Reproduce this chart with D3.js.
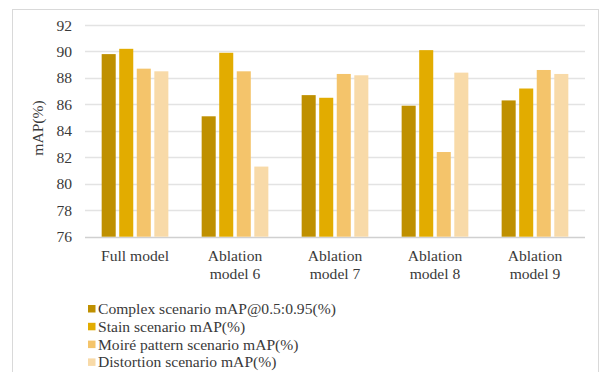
<!DOCTYPE html>
<html><head><meta charset="utf-8">
<script src="https://cdn.jsdelivr.net/npm/d3@7"></script>
<style>body{margin:0;background:#fff;} svg{display:block;}</style>
</head><body><svg id="c" width="602" height="372"></svg>
<script>
const categories = [["Full model"], ["Ablation", "model 6"], ["Ablation", "model 7"], ["Ablation", "model 8"], ["Ablation", "model 9"]];
const seriesNames = ["Complex scenario mAP@0.5:0.95(%)", "Stain scenario mAP(%)", "Moiré pattern scenario mAP(%)", "Distortion scenario mAP(%)"];
const complexVals = [89.8, 85.1, 86.7, 85.9, 86.3];
const stainVals = [90.2, 89.9, 86.5, 90.1, 87.2];
const moireVals = [88.7, 88.5, 88.3, 82.4, 88.6];
const distortionVals = [88.5, 81.3, 88.2, 88.4, 88.3];
const yTicks = [76, 78, 80, 82, 84, 86, 88, 90, 92];
const colors = ["#BF9000", "#E2AC00", "#F4C46B", "#F8DAA8"];

(function() {
const series = [complexVals, stainVals, moireVals, distortionVals];
const svg = d3.select("#c");
const font = "'Liberation Serif', 'Times New Roman', serif";
const fs = 15.6;

// outer border
svg.append("rect").attr("x", 12.5).attr("y", 9.5).attr("width", 586).attr("height", 380)
  .attr("fill", "none").attr("stroke", "#d9d9d9").attr("stroke-width", 1);

const pLeft = 85, pRight = 585, pTop = 25, pBottom = 236.7;
const keys = categories.map((c, i) => i);
const x0 = d3.scaleBand().domain(keys).range([pLeft, pRight]).paddingInner(0.333).paddingOuter(0.1667);
const x1 = d3.scaleBand().domain(d3.range(4)).range([0, x0.bandwidth()]).paddingInner(0.2).paddingOuter(0);
const y = d3.scaleLinear().domain([76, 92]).range([pBottom, pTop]);

// gridlines
svg.append("g").selectAll("line").data(yTicks).join("line")
  .attr("x1", pLeft).attr("x2", pRight)
  .attr("y1", d => Math.round(y(d)) + 0.5).attr("y2", d => Math.round(y(d)) + 0.5)
  .attr("stroke", d => d === 76 ? "#d0d0d0" : "#e3e3e3").attr("stroke-width", d => d === 76 ? 1.5 : 1.3);

// y axis labels
const yAxis = d3.axisLeft(y).tickValues(yTicks).tickSize(0).tickPadding(0);
const ga = svg.append("g").attr("transform", `translate(72,0)`).call(yAxis);
ga.select(".domain").remove();
ga.selectAll("text").attr("font-family", font).attr("font-size", fs).attr("fill", "#3a3a3a");

// bars
svg.append("g").selectAll("g").data(keys).join("g")
  .attr("transform", d => `translate(${x0(d)},0)`)
  .selectAll("rect").data(ci => series.map((s, si) => ({si, v: s[ci]}))).join("rect")
  .attr("x", d => x1(d.si)).attr("width", x1.bandwidth())
  .attr("y", d => y(d.v)).attr("height", d => y(76) - y(d.v))
  .attr("fill", d => colors[d.si]);

// category labels
const cl = svg.append("g").selectAll("text").data(keys).join("text")
  .attr("x", d => x0(d) + x0.bandwidth() / 2).attr("y", 260.5)
  .attr("text-anchor", "middle").attr("font-family", font).attr("font-size", fs).attr("fill", "#3a3a3a");
cl.selectAll("tspan").data(d => categories[d]).join("tspan")
  .attr("x", function() { return this.parentNode.getAttribute("x"); })
  .attr("dy", (d, i) => i === 0 ? 0 : 18.5).text(d => d);

// y title
svg.append("text").attr("transform", "translate(43,128) rotate(-90)")
  .attr("text-anchor", "middle").attr("font-family", font).attr("font-size", fs).attr("fill", "#3a3a3a")
  .text("mAP(%)");

// legend
const lg = svg.append("g").selectAll("g").data(seriesNames).join("g")
  .attr("transform", (d, i) => `translate(88,${309 + i * 17.8})`);
lg.append("rect").attr("x", 0).attr("y", -4).attr("width", 7.5).attr("height", 7.5).attr("fill", (d, i) => colors[i]);
lg.append("text").attr("x", 10).attr("y", 5).attr("font-family", font).attr("font-size", fs).attr("fill", "#3a3a3a").text(d => d);
})();
</script></body></html>
